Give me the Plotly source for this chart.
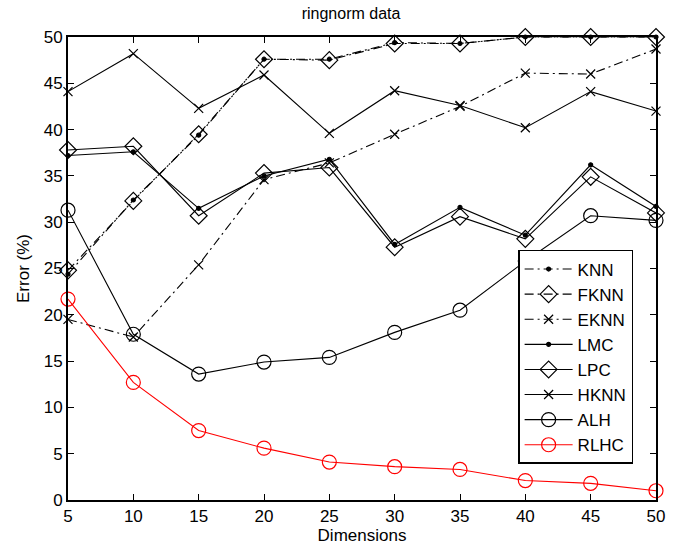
import plotly.graph_objects as go

dims = [5, 10, 15, 20, 25, 30, 35, 40, 45, 50]
knn = [24.4, 32.4, 39.4, 47.6, 47.6, 49.4, 49.3, 50.0, 50.0, 50.0]
fknn = [24.8, 32.3, 39.5, 47.6, 47.5, 49.3, 49.3, 50.0, 50.0, 50.0]
eknn = [19.5, 17.6, 25.4, 34.6, 36.4, 39.5, 42.5, 46.1, 46.0, 48.7]
lmc = [37.2, 37.6, 31.5, 35.0, 36.8, 27.6, 31.6, 28.6, 36.2, 31.7]
lpc = [37.8, 38.2, 30.7, 35.3, 35.9, 27.3, 30.6, 28.2, 34.9, 31.0]
hknn = [44.1, 48.2, 42.3, 45.9, 39.6, 44.2, 42.6, 40.2, 44.1, 42.0]
alh = [31.3, 17.9, 13.6, 14.9, 15.4, 18.1, 20.5, 25.8, 30.7, 30.2]
rlhc = [21.7, 12.7, 7.5, 5.6, 4.1, 3.6, 3.3, 2.1, 1.8, 1.0]

DASHDOT = "9px,4px,2px,4px"
series = [
    ("KNN", knn, DASHDOT, "circle", 4, "black"),
    ("FKNN", fknn, DASHDOT, "diamond-open", 13, "black"),
    ("EKNN", eknn, DASHDOT, "x-thin-open", 9, "black"),
    ("LMC", lmc, "solid", "circle", 4, "black"),
    ("LPC", lpc, "solid", "diamond-open", 13, "black"),
    ("HKNN", hknn, "solid", "x-thin-open", 9, "black"),
    ("ALH", alh, "solid", "circle-open", 14, "black"),
    ("RLHC", rlhc, "solid", "circle-open", 14, "red"),
]

fig = go.Figure()
for name, vals, dash, sym, size, col in series:
    fig.add_trace(go.Scatter(
        x=dims, y=vals, name=name, mode="lines+markers",
        legendgroup=name,
        line=dict(color=col, width=1.1, dash=dash),
        marker=dict(symbol=sym, size=size, color=col,
                    line=dict(color=col, width=1.2)),
        cliponaxis=False,
    ))

tickfont = dict(family="Liberation Sans, Arial", size=17, color="black")
axis_common = dict(
    showline=True, linecolor="black", linewidth=1.8, mirror="ticks",
    ticks="inside", ticklen=6, tickcolor="black", tickwidth=1,
    showgrid=False, zeroline=False, tickfont=tickfont, automargin=False,
)

fig.update_layout(
    width=683, height=549,
    margin=dict(l=68, r=27, t=37, b=49),
    paper_bgcolor="white", plot_bgcolor="white",
    font=dict(family="Liberation Sans, Arial", color="black"),
    title=dict(text="ringnorm data", x=0.514, xanchor="center", y=0.975,
               yanchor="middle", font=dict(size=16, color="black")),
    xaxis=dict(axis_common, range=[5, 50], tickvals=dims,
               title=dict(text="Dimensions", font=dict(size=17), standoff=2)),
    yaxis=dict(axis_common, range=[0, 50], tickvals=list(range(0, 51, 5)),
               title=dict(text="Error (%)", font=dict(size=17), standoff=10)),
    legend=dict(x=0.7655, y=0.54, xanchor="left", yanchor="top",
                bgcolor="white", bordercolor="black", borderwidth=1.5,
                font=dict(size=17, color="black"), tracegroupgap=0,
                itemwidth=48),
    showlegend=True,
)

fig.write_html("out.html")
